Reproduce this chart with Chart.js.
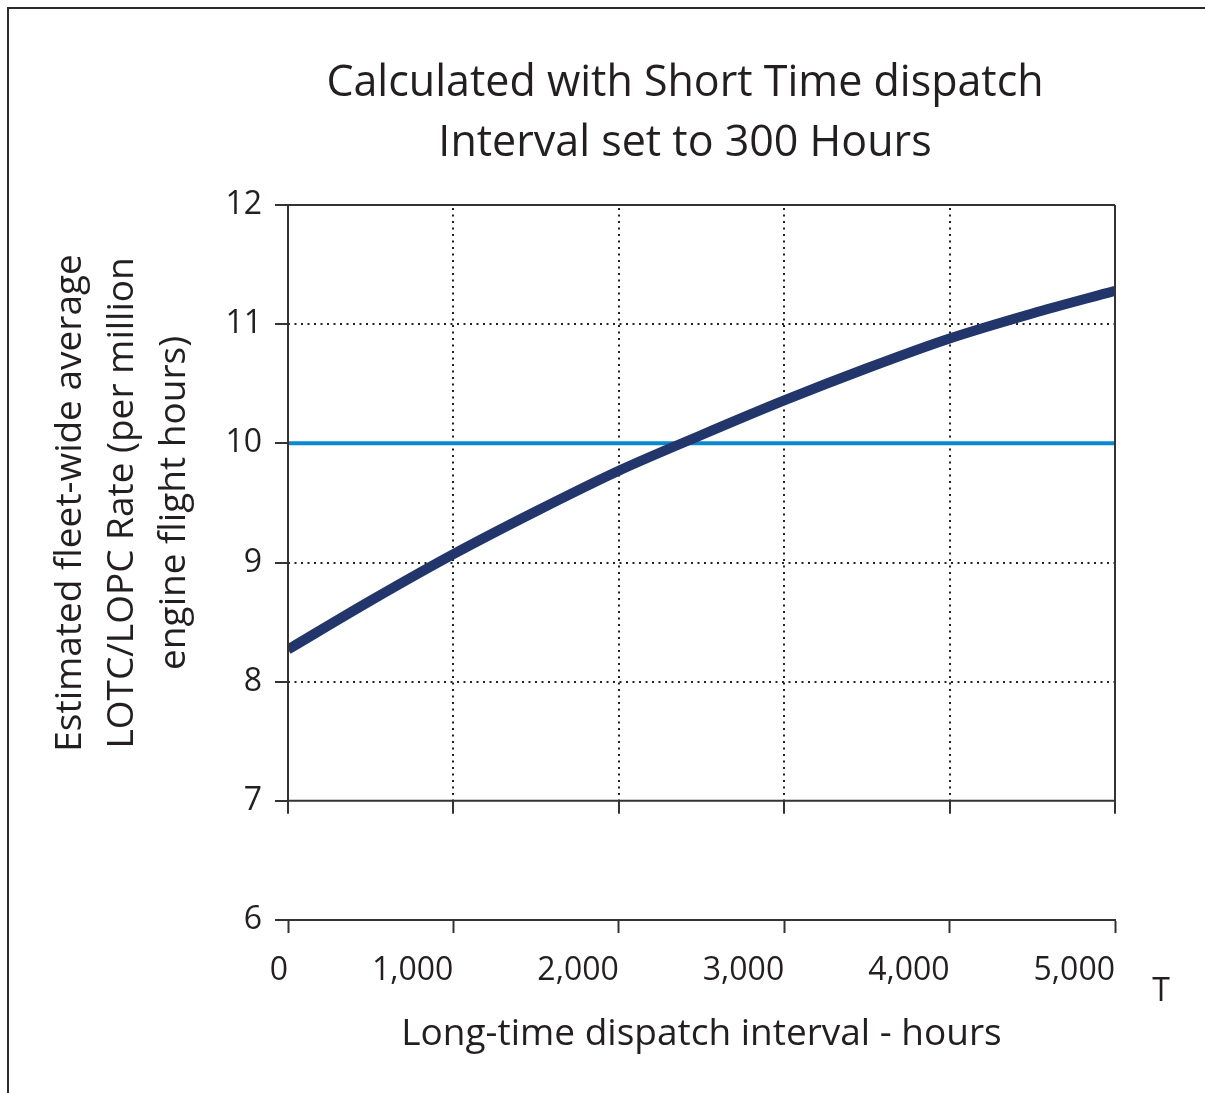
<!DOCTYPE html>
<html>
<head>
<meta charset="utf-8">
<script src="https://cdn.jsdelivr.net/npm/chart.js@4.4.1/dist/chart.umd.min.js"></script>
<style>
  body { margin: 0; background: #fff; }
  .wrap { position: relative; width: 1205px; height: 1093px; }
  .frame { position: absolute; left: 7px; top: 7px; right: 0; bottom: 0;
           border-left: 2px solid #2b2b2b; border-top: 2px solid #2b2b2b; }
  canvas { position: absolute; left: 0; top: 0; }
</style>
</head>
<body>
<div class="wrap">
  <div class="frame"></div>
  <canvas class="chart" width="1205" height="1093"></canvas>
</div>
<script>
const hours = [0, 500, 1000, 1500, 2000, 2500, 3000, 3500, 4000, 4500, 5000];
const lotcRate = [8.27, 8.68, 9.07, 9.43, 9.77, 10.07, 10.36, 10.63, 10.88, 11.09, 11.28];
const targetRate = [10, 10, 10, 10, 10, 10, 10, 10, 10, 10, 10];

const titleLines = ['Calculated with Short Time dispatch', 'Interval set to 300 Hours'];
const yTitleLines = ['Estimated fleet-wide average', 'LOTC/LOPC Rate (per million', 'engine flight hours)'];
const xTitle = 'Long-time dispatch interval - hours';

const ink = '#231f20';
const axisCol = '#333';
const fontFamily = '"Open Sans", sans-serif';

// box round the upper part, dotted verticals, extra ticks, titles and the stray "T"
const framePlugin = {
  id: 'frame',
  beforeDatasetsDraw(chart) {
    const { ctx, scales: { x, y } } = chart;
    const top = y.getPixelForValue(12);
    const base = y.getPixelForValue(7);
    ctx.save();
    ctx.strokeStyle = '#222';
    ctx.lineWidth = 2;
    ctx.setLineDash([2, 4.5]);
    x.ticks.forEach(t => {
      if (t.value <= x.min || t.value >= x.max) return;
      const px = Math.round(x.getPixelForValue(t.value));
      ctx.beginPath();
      ctx.moveTo(px, top + 3);
      ctx.lineTo(px, base);
      ctx.stroke();
    });
    ctx.restore();
  },
  afterDatasetsDraw(chart) {
    const { ctx, scales: { x, y } } = chart;
    const top = y.getPixelForValue(12);
    const base = y.getPixelForValue(7);
    ctx.save();
    ctx.strokeStyle = axisCol;
    ctx.lineWidth = 2;
    ctx.beginPath();
    ctx.moveTo(x.left, top); ctx.lineTo(x.right, top);
    ctx.moveTo(x.left, base); ctx.lineTo(x.right, base);
    ctx.moveTo(x.left, top); ctx.lineTo(x.left, base + 13);
    ctx.moveTo(x.right, top); ctx.lineTo(x.right, base + 13);
    x.ticks.forEach(t => {
      const px = Math.round(x.getPixelForValue(t.value));
      ctx.moveTo(px, base); ctx.lineTo(px, base + 13);
    });
    ctx.stroke();

    ctx.fillStyle = ink;
    ctx.textAlign = 'center';
    ctx.textBaseline = 'middle';

    ctx.font = '43px ' + fontFamily;
    titleLines.forEach((s, i) => ctx.fillText(s, 685, 84 + i * 60));

    ctx.font = '32px ' + fontFamily;
    ctx.fillText('T', 1161, 992);

    // y title, three rotated lines
    ctx.font = '37px ' + fontFamily;
    ctx.translate(122, (top + base) / 2);
    ctx.rotate(-Math.PI / 2);
    yTitleLines.forEach((s, i) => ctx.fillText(s, 0, (i - 1) * 52));
    ctx.restore();
  }
};

new Chart(document.querySelector('.chart'), {
  type: 'line',
  data: {
    datasets: [
      {
        label: 'LOTC/LOPC rate',
        data: hours.map((h, i) => ({ x: h, y: lotcRate[i] })),
        borderColor: '#22366b',
        borderWidth: 10,
        pointRadius: 0,
        cubicInterpolationMode: 'monotone',
        borderCapStyle: 'butt'
      },
      {
        label: 'Target',
        data: hours.map((h, i) => ({ x: h, y: targetRate[i] })),
        borderColor: '#0b89cf',
        borderWidth: 4,
        pointRadius: 0,
        order: 1
      }
    ]
  },
  options: {
    responsive: false,
    animation: false,
    layout: { padding: { left: 200, right: 90, top: 205, bottom: 0 } },
    plugins: {
      legend: { display: false },
      tooltip: { enabled: false },
      title: { display: false }
    },
    scales: {
      x: {
        type: 'linear',
        min: 0,
        max: 5000,
        border: { display: true, color: axisCol, width: 2 },
        grid: { drawOnChartArea: false, tickLength: 13, tickColor: axisCol, tickWidth: 2 },
        ticks: {
          stepSize: 1000,
          align: 'end',
          padding: 19,
          color: ink,
          font: { family: fontFamily, size: 32 },
          callback: v => v.toLocaleString('en-US')
        },
        title: {
          display: true,
          text: xTitle,
          color: ink,
          font: { family: fontFamily, size: 37 },
          padding: { top: 0, bottom: 36 }
        },
        afterFit: s => { s.height = 173; }
      },
      y: {
        min: 6,
        max: 12,
        border: { display: false, dash: [2, 4.5] },
        grid: {
          color: c => (c.tick && c.tick.value > 7 && c.tick.value < 12) ? '#222' : 'rgba(0,0,0,0)',
          lineWidth: 2,
          tickLength: 13,
          tickColor: axisCol,
          tickWidth: 2,
          tickBorderDash: []
        },
        ticks: {
          stepSize: 1,
          padding: 13,
          color: ink,
          font: { family: fontFamily, size: 32 }
        },
        afterFit: s => { s.width = 88; }
      }
    }
  },
  plugins: [framePlugin]
});
</script>
</body>
</html>
